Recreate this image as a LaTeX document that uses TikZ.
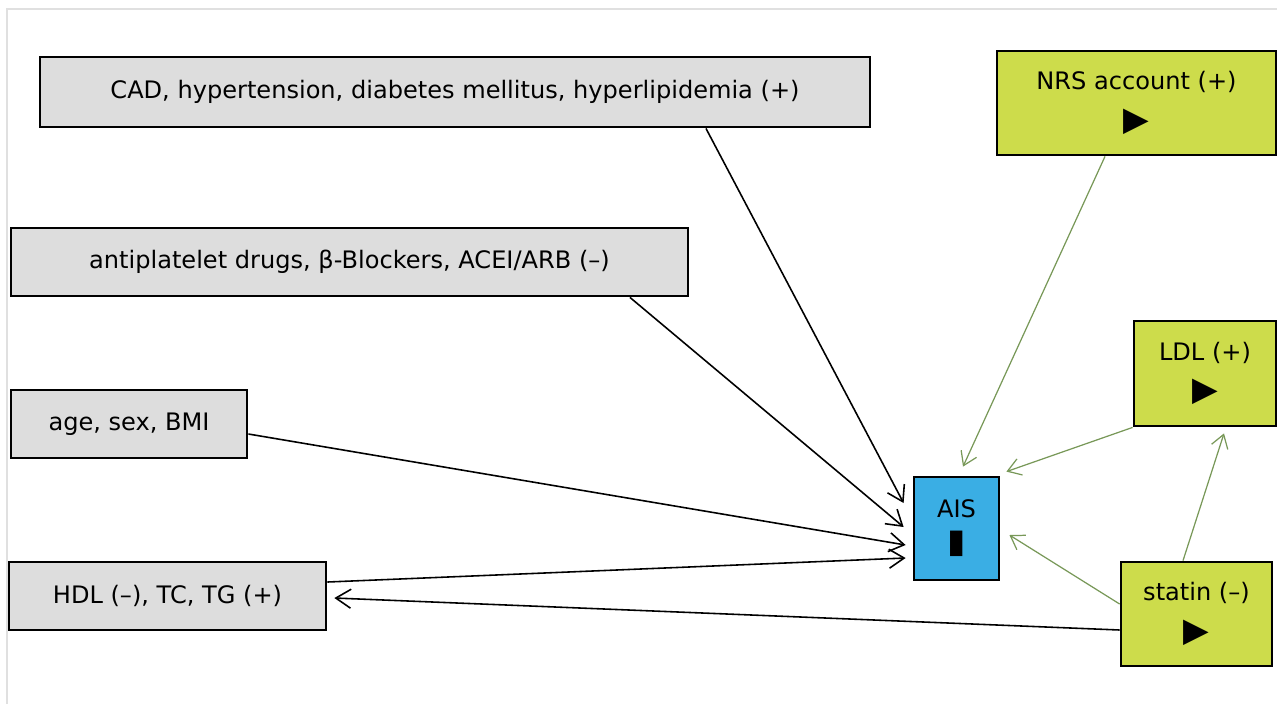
\documentclass[tikz,border=0pt]{standalone}
\usepackage{fontspec}
\setmainfont{DejaVu Sans}
\usetikzlibrary{arrows.meta,positioning}
\definecolor{boxgray}{RGB}{221,221,221}
\definecolor{boxlime}{RGB}{205,220,75}
\definecolor{boxblue}{RGB}{58,174,228}
\definecolor{linkgreen}{RGB}{120,152,88}

\begin{document}
\begin{tikzpicture}[x=0.02cm,y=-0.02cm,
    fact/.style={draw=black,line width=1.6pt,fill=boxgray,inner sep=0pt,font=\fontsize{13.7}{15}\selectfont},
    expo/.style={draw=black,line width=1.6pt,fill=boxlime,inner sep=0pt,align=center,font=\fontsize{13.7}{15}\selectfont},
    blk/.style={black,line width=0.9pt,-{Straight Barb[length=3mm,width=3.8mm,line width=0.9pt]}},
    grn/.style={linkgreen,line width=0.7pt,-{Straight Barb[length=2.6mm,width=3.4mm,line width=0.7pt]}}]
    \useasboundingbox (0,0) rectangle (1277,704);
    \draw[black!12,line width=0.6pt] (7,704)--(7,9)--(1277,9);

    % left column
    \node[fact,minimum width=16.6cm,minimum height=1.4cm] (risk) at (455,92) {CAD, hypertension, diabetes mellitus, hyperlipidemia (+)};
    \node[fact,minimum width=13.54cm,minimum height=1.36cm] (drugs) at (349.5,262) {antiplatelet drugs, β-Blockers, ACEI/ARB (–)};
    \node[fact,minimum width=4.72cm,minimum height=1.36cm] (demo) at (129,424) {age, sex, BMI};
    \node[fact,minimum width=6.34cm,minimum height=1.36cm] (lipid) at (167.5,596) {HDL (–), TC, TG (+)};

    % outcome and exposures
    \node[draw=black,line width=1.6pt,fill=boxblue,inner sep=0pt,align=center,
      minimum width=1.7cm,minimum height=2.06cm,font=\fontsize{13.7}{15}\selectfont] (ais) at (956.5,528.5)
      {AIS\\[5pt]{\fontsize{19}{19}\selectfont ▮}};
    \node[expo,minimum width=5.58cm,minimum height=2.08cm] (nrs) at (1136.5,103) {NRS account (+)\\[8pt]{\fontsize{19}{19}\selectfont ▶}};
    \node[expo,minimum width=2.84cm,minimum height=2.1cm] (ldl) at (1205,373.5) {LDL (+)\\[8pt]{\fontsize{19}{19}\selectfont ▶}};
    \node[expo,minimum width=3.02cm,minimum height=2.08cm] (statin) at (1196.5,614) {statin (–)\\[8pt]{\fontsize{19}{19}\selectfont ▶}};

    % black links
    \draw[blk] ([xshift=5.02cm]risk.south) -- ([shift={(-0.18cm,0.51cm)}]ais.west);
    \draw[blk] ([xshift=5.61cm]drugs.south) -- ([shift={(-0.18cm,0.03cm)}]ais.west);
    \draw[blk] ([yshift=-0.2cm]demo.east) -- ([shift={(-0.14cm,-0.33cm)}]ais.west);
    \draw[blk] ([yshift=0.28cm]lipid.east) -- ([shift={(-0.14cm,-0.59cm)}]ais.west);
    \draw[blk] ([yshift=-0.32cm]statin.west) -- ([shift={(0.14cm,-0.04cm)}]lipid.east);

    % green links
    \draw[grn] ([xshift=-0.63cm]nrs.south) -- ([shift={(0.13cm,0.18cm)}]ais.north);
    \draw[grn] (ldl.south west) -- ([shift={(0.12cm,0.08cm)}]ais.north east);
    \draw[grn] ([yshift=0.2cm]statin.west) -- ([shift={(0.18cm,-0.13cm)}]ais.east);
    \draw[grn] ([xshift=-0.27cm]statin.north) -- ([shift={(0.38cm,-0.12cm)}]ldl.south);
\end{tikzpicture}
\end{document}
